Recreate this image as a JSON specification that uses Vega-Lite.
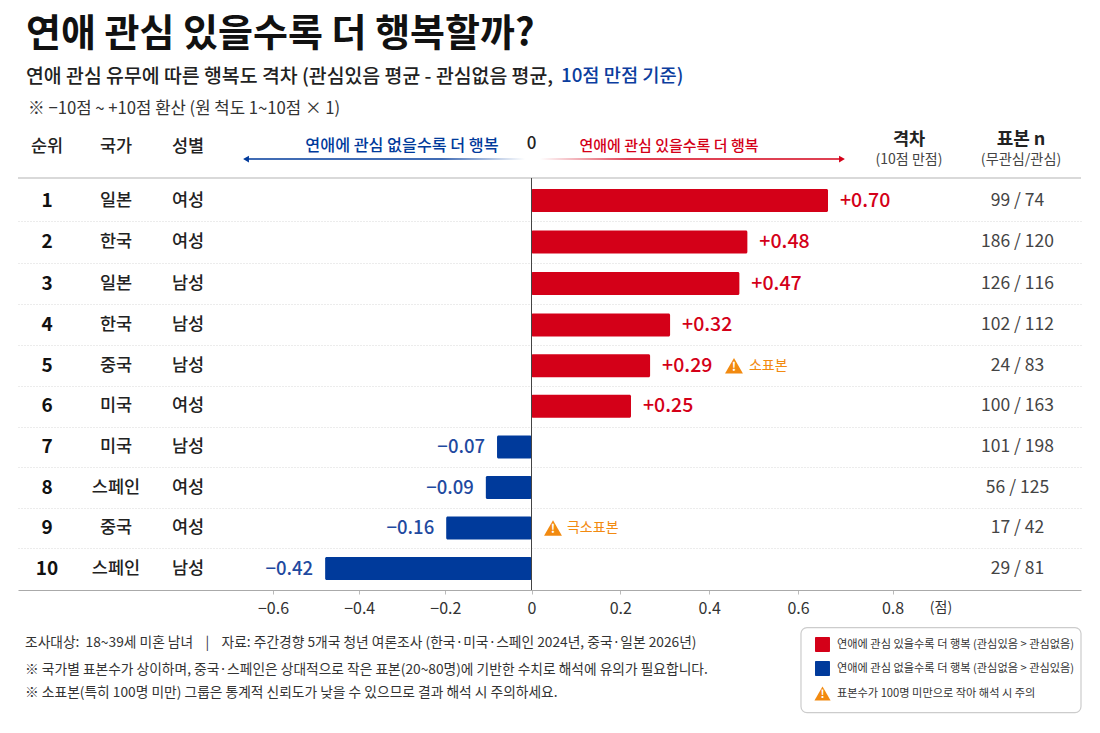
{
"$schema":"https://vega.github.io/schema/vega-lite/v6.json",
"width":1063,"height":412,
"autosize":{"type":"none"},
"padding":{"left":18,"top":178,"right":19,"bottom":143},
"background":"#ffffff",
"config":{"font":"Noto Sans CJK KR","view":{"stroke":null},"text":{"font":"Noto Sans CJK KR"}},
"title":{"text":"연애 관심 있을수록 더 행복할까?","subtitle":"연애 관심 유무에 따른 행복도 격차 (관심있음 평균 - 관심없음 평균,","anchor":"start","frame":"group","dx":8,"offset":-19,"fontSize":38,"fontWeight":700,"color":"#111111","subtitleFontSize":19.4,"subtitleFontWeight":500,"subtitleColor":"#222222","subtitlePadding":14,"font":"Noto Sans CJK KR","subtitleFont":"Noto Sans CJK KR"},
"data":{"values":[
{"rank":1,"country":"일본","gender":"여성","bar":0.6635,"gap":"+0.70","sign":"pos","n":"99 / 74"},
{"rank":2,"country":"한국","gender":"여성","bar":0.486,"gap":"+0.48","sign":"pos","n":"186 / 120"},
{"rank":3,"country":"일본","gender":"남성","bar":0.468,"gap":"+0.47","sign":"pos","n":"126 / 116"},
{"rank":4,"country":"한국","gender":"남성","bar":0.312,"gap":"+0.32","sign":"pos","n":"102 / 112"},
{"rank":5,"country":"중국","gender":"남성","bar":0.267,"gap":"+0.29","sign":"pos","n":"24 / 83","warn":"소표본"},
{"rank":6,"country":"미국","gender":"여성","bar":0.224,"gap":"+0.25","sign":"pos","n":"100 / 163"},
{"rank":7,"country":"미국","gender":"남성","bar":-0.08,"gap":"−0.07","sign":"neg","n":"101 / 198"},
{"rank":8,"country":"스페인","gender":"여성","bar":-0.106,"gap":"−0.09","sign":"neg","n":"56 / 125"},
{"rank":9,"country":"중국","gender":"여성","bar":-0.198,"gap":"−0.16","sign":"neg","n":"17 / 42","warn":"극소표본"},
{"rank":10,"country":"스페인","gender":"남성","bar":-0.479,"gap":"−0.42","sign":"neg","n":"29 / 81"}
]},
"layer":[
{"mark":{"type":"bar","orient":"horizontal","size":23,"cornerRadius":1.5},
 "encoding":{
  "x":{"field":"bar","type":"quantitative","scale":{"domain":[-1.192,0,0.6,0.8,1.1989],"range":[0,513.5,780,874.5,1063],"padding":0,"nice":false,"zero":false},
   "axis":{"title":null,"values":[-0.6,-0.4,-0.2,0,0.2,0.4,0.6,0.8],"grid":false,"domainColor":"#aaaaaa","domainWidth":1.2,"tickColor":"#bbbbbb","tickSize":4,"labelFontSize":16,"labelColor":"#333333","labelPadding":6,"labelFont":"Noto Sans CJK KR","labelExpr":"datum.value===0 ? '0' : (datum.value<0 ? '−'+format(-datum.value,'.1f') : format(datum.value,'.1f'))"}},
  "x2":{"datum":0},
  "y":{"field":"rank","type":"quantitative","scale":{"domain":[0.45,1,2,4,7,10,10.525],"range":[0,22.5,64,147,269,390.5,412],"padding":0,"nice":false,"zero":false},
   "axis":{"title":null,"values":[1.5,2.5,3.5,4.5,5.5,6.5,7.5,8.5,9.5],"grid":true,"gridDash":[1,2],"gridColor":"#d8d8d8","labels":false,"ticks":false,"domain":false}},
  "color":{"field":"sign","type":"nominal","scale":{"domain":["pos","neg"],"range":["#D40018","#003A9B"]},"legend":null}}},
{"data":{"values":[{"a":0}]},"mark":{"type":"rule","color":"#cccccc","strokeWidth":1.5},"encoding":{"y":{"datum":0.45}}},
{"data":{"values":[{"a":0}]},"mark":{"type":"rule","color":"#444444","strokeWidth":1},"encoding":{"x":{"datum":0}}},
{"mark":{"type":"text","align":"center","fontSize":19,"fontWeight":700,"color":"#111111"},"encoding":{"x":{"datum":-1.1247},"y":{"field":"rank","type":"quantitative"},"text":{"field":"rank"}}},
{"mark":{"type":"text","align":"center","fontSize":17.5,"fontWeight":500,"color":"#222222"},"encoding":{"x":{"datum":-0.9645},"y":{"field":"rank","type":"quantitative"},"text":{"field":"country"}}},
{"mark":{"type":"text","align":"center","fontSize":17.5,"fontWeight":500,"color":"#222222"},"encoding":{"x":{"datum":-0.7974},"y":{"field":"rank","type":"quantitative"},"text":{"field":"gender"}}},
{"mark":{"type":"text","align":"center","fontSize":17.5,"color":"#444444"},"encoding":{"x":{"datum":1.0645},"y":{"field":"rank","type":"quantitative"},"text":{"field":"n"}}},
{"transform":[{"filter":"datum.sign==='pos'"}],"mark":{"type":"text","align":"left","dx":12,"fontSize":19.5,"fontWeight":500,"color":"#D40018"},"encoding":{"x":{"field":"bar","type":"quantitative"},"y":{"field":"rank","type":"quantitative"},"text":{"field":"gap"}}},
{"transform":[{"filter":"datum.sign==='neg'"}],"mark":{"type":"text","align":"right","dx":-12,"fontSize":18.5,"fontWeight":500,"color":"#1F4AA0"},"encoding":{"x":{"field":"bar","type":"quantitative"},"y":{"field":"rank","type":"quantitative"},"text":{"field":"gap"}}},
{"transform":[{"filter":"datum.rank===5"}],"mark":{"type":"point","shape":"triangle-up","filled":true,"size":320,"color":"#F28A10","opacity":1},"encoding":{"x":{"datum":0.4559},"y":{"field":"rank","type":"quantitative"}}},
{"transform":[{"filter":"datum.rank===5"}],"mark":{"type":"text","text":"!","fontSize":12,"fontWeight":700,"color":"#ffffff","dy":1},"encoding":{"x":{"datum":0.4559},"y":{"field":"rank","type":"quantitative"}}},
{"transform":[{"filter":"datum.rank===5"}],"mark":{"type":"text","align":"left","fontSize":14,"color":"#F28A10"},"encoding":{"x":{"datum":0.4896},"y":{"field":"rank","type":"quantitative"},"text":{"field":"warn"}}},
{"transform":[{"filter":"datum.rank===9"}],"mark":{"type":"point","shape":"triangle-up","filled":true,"size":320,"color":"#F28A10","opacity":1},"encoding":{"x":{"datum":0.0484},"y":{"field":"rank","type":"quantitative"}}},
{"transform":[{"filter":"datum.rank===9"}],"mark":{"type":"text","text":"!","fontSize":12,"fontWeight":700,"color":"#ffffff","dy":1},"encoding":{"x":{"datum":0.0484},"y":{"field":"rank","type":"quantitative"}}},
{"transform":[{"filter":"datum.rank===9"}],"mark":{"type":"text","align":"left","fontSize":14,"color":"#F28A10"},"encoding":{"x":{"datum":0.0799},"y":{"field":"rank","type":"quantitative"},"text":{"field":"warn"}}},
{"data":{"values":[{"t":"순위"}]},"mark":{"type":"text","align":"center","fontSize":17.5,"fontWeight":500,"color":"#222222"},"encoding":{"x":{"datum":-1.1247},"y":{"datum":-0.31},"text":{"field":"t"}}},
{"data":{"values":[{"t":"국가"}]},"mark":{"type":"text","align":"center","fontSize":17.5,"fontWeight":500,"color":"#222222"},"encoding":{"x":{"datum":-0.9645},"y":{"datum":-0.31},"text":{"field":"t"}}},
{"data":{"values":[{"t":"성별"}]},"mark":{"type":"text","align":"center","fontSize":17.5,"fontWeight":500,"color":"#222222"},"encoding":{"x":{"datum":-0.7974},"y":{"datum":-0.31},"text":{"field":"t"}}},
{"data":{"values":[{"t":"연애에 관심 없을수록 더 행복"}]},"mark":{"type":"text","align":"center","fontSize":16.2,"fontWeight":500,"color":"#003A9B"},"encoding":{"x":{"datum":-0.3006},"y":{"datum":-0.33},"text":{"field":"t"}}},
{"data":{"values":[{"t":"0"}]},"mark":{"type":"text","align":"center","fontSize":17,"fontWeight":500,"color":"#222222"},"encoding":{"x":{"datum":0},"y":{"datum":-0.38},"text":{"field":"t"}}},
{"data":{"values":[{"t":"연애에 관심 있을수록 더 행복"}]},"mark":{"type":"text","align":"center","fontSize":15,"fontWeight":500,"color":"#D40018"},"encoding":{"x":{"datum":0.3096},"y":{"datum":-0.33},"text":{"field":"t"}}},
{"data":{"values":[{"t":"격차"}]},"mark":{"type":"text","align":"center","fontSize":17.5,"fontWeight":700,"color":"#222222"},"encoding":{"x":{"datum":0.8349},"y":{"datum":-0.48},"text":{"field":"t"}}},
{"data":{"values":[{"t":"(10점 만점)"}]},"mark":{"type":"text","align":"center","fontSize":14,"color":"#444444"},"encoding":{"x":{"datum":0.8349},"y":{"datum":0.01},"text":{"field":"t"}}},
{"data":{"values":[{"t":"표본 n"}]},"mark":{"type":"text","align":"center","fontSize":18,"fontWeight":700,"color":"#222222"},"encoding":{"x":{"datum":1.072},"y":{"datum":-0.48},"text":{"field":"t"}}},
{"data":{"values":[{"t":"(무관심/관심)"}]},"mark":{"type":"text","align":"center","fontSize":14.2,"color":"#444444"},"encoding":{"x":{"datum":1.072},"y":{"datum":0.01},"text":{"field":"t"}}},
{"data":{"values":[{"a":0}]},"mark":{"type":"rect","color":{"gradient":"linear","x1":0,"x2":1,"y1":0,"y2":0,"stops":[{"offset":0,"color":"#003A9B"},{"offset":0.7,"color":"#003A9B"},{"offset":1,"color":"#ffffff"}]}},"encoding":{"x":{"datum":-0.6627},"x2":{"datum":-0.0151},"y":{"datum":-0.034},"y2":{"datum":0.0063}}},
{"data":{"values":[{"a":0}]},"mark":{"type":"point","shape":"triangle-left","filled":true,"size":45,"color":"#003A9B","opacity":1},"encoding":{"x":{"datum":-0.6627},"y":{"datum":-0.0137}}},
{"data":{"values":[{"a":0}]},"mark":{"type":"rect","color":{"gradient":"linear","x1":0,"x2":1,"y1":0,"y2":0,"stops":[{"offset":0,"color":"#ffffff"},{"offset":0.3,"color":"#D40018"},{"offset":1,"color":"#D40018"}]}},"encoding":{"x":{"datum":0.0191},"x2":{"datum":0.6931},"y":{"datum":-0.034},"y2":{"datum":0.0063}}},
{"data":{"values":[{"a":0}]},"mark":{"type":"point","shape":"triangle-right","filled":true,"size":45,"color":"#D40018","opacity":1},"encoding":{"x":{"datum":0.6931},"y":{"datum":-0.0137}}},
{"data":{"values":[{"t":"10점 만점 기준)"}]},"mark":{"type":"text","align":"left","fontSize":18.7,"fontWeight":500,"color":"#0B3D9E"},"encoding":{"x":{"datum":0.0664},"y":{"datum":-2.04},"text":{"field":"t"}}},
{"data":{"values":[{"t":"※ −10점 ~ +10점 환산 (원 척도 1~10점 × 1)"}]},"mark":{"type":"text","align":"left","fontSize":16.7,"color":"#333333"},"encoding":{"x":{"datum":-1.1688},"y":{"datum":-1.235},"text":{"field":"t"}}},
{"data":{"values":[{"t":"(점)"}]},"mark":{"type":"text","align":"center","fontSize":14,"color":"#333333"},"encoding":{"x":{"datum":0.9026},"y":{"datum":10.97},"text":{"field":"t"}}},
{"data":{"values":[{"t":"조사대상:\u00a0 18~39세 미혼 남녀\u00a0\u00a0\u00a0\u00a0|\u00a0\u00a0\u00a0\u00a0자료: 주간경향 5개국 청년 여론조사 (한국·미국·스페인 2024년, 중국·일본 2026년)"}]},"mark":{"type":"text","align":"left","fontSize":13.75,"color":"#333333"},"encoding":{"x":{"datum":-1.1757},"y":{"datum":11.81},"text":{"field":"t"}}},
{"data":{"values":[{"t":"※ 국가별 표본수가 상이하며, 중국·스페인은 상대적으로 작은 표본(20~80명)에 기반한 수치로 해석에 유의가 필요합니다."}]},"mark":{"type":"text","align":"left","fontSize":13.75,"color":"#333333"},"encoding":{"x":{"datum":-1.1757},"y":{"datum":12.468},"text":{"field":"t"}}},
{"data":{"values":[{"t":"※ 소표본(특히 100명 미만) 그룹은 통계적 신뢰도가 낮을 수 있으므로 결과 해석 시 주의하세요."}]},"mark":{"type":"text","align":"left","fontSize":13.75,"color":"#333333"},"encoding":{"x":{"datum":-1.1757},"y":{"datum":13.05},"text":{"field":"t"}}},
{"data":{"values":[{"a":0}]},"mark":{"type":"rect","fill":"#ffffff","stroke":"#cccccc","strokeWidth":1.2,"cornerRadius":6},"encoding":{"x":{"datum":0.6063},"x2":{"datum":1.1989},"y":{"datum":11.442},"y2":{"datum":13.518}}},
{"data":{"values":[{"a":0}]},"mark":{"type":"rect","color":"#D40018","cornerRadius":1},"encoding":{"x":{"datum":0.636},"x2":{"datum":0.6677},"y":{"datum":11.674},"y2":{"datum":12.04}}},
{"data":{"values":[{"a":0}]},"mark":{"type":"rect","color":"#003A9B","cornerRadius":1},"encoding":{"x":{"datum":0.636},"x2":{"datum":0.6677},"y":{"datum":12.26},"y2":{"datum":12.627}}},
{"data":{"values":[{"a":0}]},"mark":{"type":"point","shape":"triangle-up","filled":true,"size":260,"color":"#F28A10","opacity":1},"encoding":{"x":{"datum":0.6519},"y":{"datum":13.054}}},
{"data":{"values":[{"a":0}]},"mark":{"type":"text","text":"!","fontSize":11,"fontWeight":700,"color":"#ffffff","dy":1},"encoding":{"x":{"datum":0.6519},"y":{"datum":13.054}}},
{"data":{"values":[{"t":"연애에 관심 있을수록 더 행복 (관심있음 > 관심없음)"}]},"mark":{"type":"text","align":"left","fontSize":11.2,"color":"#333333"},"encoding":{"x":{"datum":0.6825},"y":{"datum":11.857},"text":{"field":"t"}}},
{"data":{"values":[{"t":"연애에 관심 없을수록 더 행복 (관심없음 > 관심있음)"}]},"mark":{"type":"text","align":"left","fontSize":11.2,"color":"#333333"},"encoding":{"x":{"datum":0.6825},"y":{"datum":12.443},"text":{"field":"t"}}},
{"data":{"values":[{"t":"표본수가 100명 미만으로 작아 해석 시 주의"}]},"mark":{"type":"text","align":"left","fontSize":11.2,"color":"#333333"},"encoding":{"x":{"datum":0.6825},"y":{"datum":13.054},"text":{"field":"t"}}}
]
}
